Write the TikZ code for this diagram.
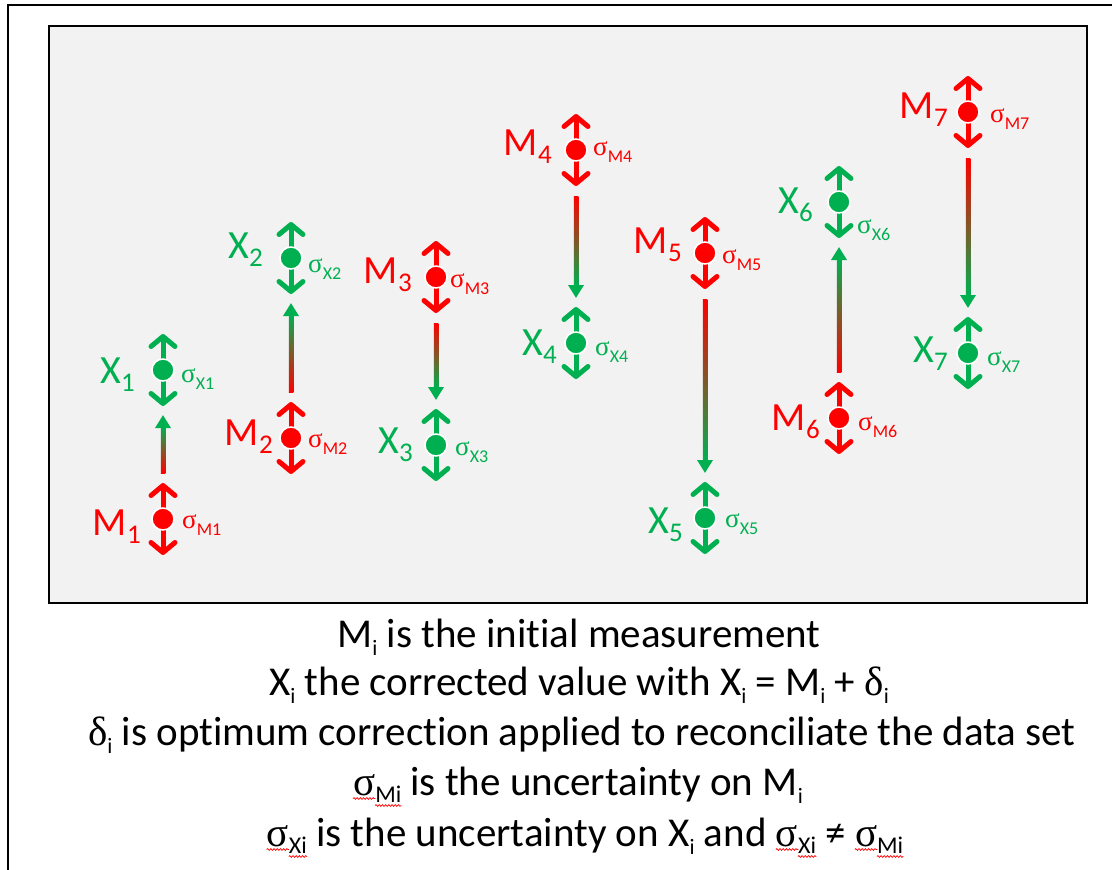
\documentclass[tikz,border=0pt]{standalone}
\usepackage{fontspec}
\setmainfont{Carlito}[Ligatures={NoCommon}]
\newfontfamily\symf{Liberation Serif}
\usetikzlibrary{arrows.meta,calc,decorations.pathmorphing}
\definecolor{mred}{RGB}{255,0,0}
\definecolor{xgreen}{RGB}{0,176,80}
\definecolor{panel}{RGB}{242,242,242}
\newcommand\redwv[1]{\tikz[baseline=(w.base)]{\node[inner sep=0pt, font=, text=black] (w) {#1};
  \draw[overlay, mred, line width=0.7pt, decorate, decoration={snake, amplitude=0.9pt, segment length=3.2pt}] ([yshift=-3.5pt]w.base west) -- ([yshift=-3.5pt]w.base east);}}
\newcommand\sg{{\symf σ}}
\newcommand\dl{{\symf δ}}
\newcommand\lsub[1]{\raisebox{-8pt}{\fontsize{27}{27}\selectfont #1}}
\newcommand\ssub[1]{\raisebox{-7pt}{\fontsize{18}{18}\selectfont #1}}
\newcommand\bsub[1]{\raisebox{-8pt}{\fontsize{22}{22}\selectfont #1}}
\newcommand\bsubw[1]{\raisebox{-7pt}{\fontsize{24}{24}\selectfont\redwv{#1}}}
\tikzset{
  mdot/.style={circle, fill=mred, draw=white, line width=1.5pt, minimum size=22pt, inner sep=0pt},
  xdot/.style={circle, fill=xgreen, draw=white, line width=1.5pt, minimum size=22pt, inner sep=0pt},
  dbl/.style={line width=5pt, {Straight Barb[length=10pt,width=24pt,round]}-{Straight Barb[length=10pt,width=24pt,round]}},
  conn/.style={line width=4.5pt, draw=xgreen, -{Triangle[length=13pt,width=15pt]}},
  biglab/.style={inner sep=0pt, font=\fontsize{40}{40}\selectfont},
  siglab/.style={inner sep=0pt, font=\fontsize{27}{27}\selectfont},
  btxt/.style={inner sep=0pt, anchor=base, font=\fontsize{41}{41}\selectfont},
}
\begin{document}
\begin{tikzpicture}[x=1pt,y=-1pt]
\clip (0,0) rectangle (1112,870);
\fill[white] (0,0) rectangle (1112,870);
% frames
\draw[line width=2pt, black] (8,5) rectangle (1130,890);
\draw[line width=2.5pt, black, fill=panel] (49,26) rectangle (1087,603);
% points
\foreach \i/\x/\my/\xy in {1/163/519/370, 2/291/438/258, 3/436/277/445, 4/576/150/343, 5/705/253/518, 6/839/418/202, 7/968/112/353}{
  \node[mdot] (M\i) at (\x,\my) {};
  \node[xdot] (X\i) at (\x,\xy) {};
}
% connectors
\foreach \i/\d in {1/-1, 2/-1, 3/1, 4/1, 5/1, 6/-1, 7/1}{
  \coordinate (s\i) at ($(M\i)+(0,46*\d)$);
  \coordinate (e\i) at ($(X\i)+(0,-45*\d)$);
  \coordinate (h\i) at ($(e\i)+(0,-12*\d)$);
  \draw[conn] (s\i) -- (e\i);
  \ifnum\d=1
    \shade[top color=mred, bottom color=xgreen] ($(s\i)+(-2.25,0)$) rectangle ($(h\i)+(2.25,0)$);
  \else
    \shade[top color=xgreen, bottom color=mred] ($(s\i)+(-2.25,0)$) rectangle ($(h\i)+(2.25,0)$);
  \fi
}
% uncertainty double arrows and dots
\foreach \i in {1,...,7}{
  \draw[dbl, mred] ($(M\i)+(0,-36)$) -- ($(M\i)+(0,36)$);
  \draw[dbl, xgreen] ($(X\i)+(0,-36)$) -- ($(X\i)+(0,36)$);
  \node[mdot] at (M\i) {};
  \node[xdot] at (X\i) {};
}
% labels
\node[biglab, mred, anchor=base east] (LM1) at (141,535) {M\lsub{1}};
\node[siglab, mred, anchor=base west] (SM1) at (182,528) {\sg\ssub{M1}};
\node[biglab, xgreen, anchor=base east] (LX1) at (135,383) {X\lsub{1}};
\node[siglab, xgreen, anchor=base west] (SX1) at (181,382) {\sg\ssub{X1}};
\node[biglab, mred, anchor=base east] (LM2) at (273,445) {M\lsub{2}};
\node[siglab, mred, anchor=base west] (SM2) at (308,447) {\sg\ssub{M2}};
\node[biglab, xgreen, anchor=base east] (LX2) at (263,258) {X\lsub{2}};
\node[siglab, xgreen, anchor=base west] (SX2) at (308,272) {\sg\ssub{X2}};
\node[biglab, mred, anchor=base east] (LM3) at (412,283) {M\lsub{3}};
\node[siglab, mred, anchor=base west] (SM3) at (450,287) {\sg\ssub{M3}};
\node[biglab, xgreen, anchor=base east] (LX3) at (413,453) {X\lsub{3}};
\node[siglab, xgreen, anchor=base west] (SX3) at (455,455) {\sg\ssub{X3}};
\node[biglab, mred, anchor=base east] (LM4) at (552,155) {M\lsub{4}};
\node[siglab, mred, anchor=base west] (SM4) at (593,155) {\sg\ssub{M4}};
\node[biglab, xgreen, anchor=base east] (LX4) at (557,355) {X\lsub{4}};
\node[siglab, xgreen, anchor=base west] (SX4) at (595,355) {\sg\ssub{X4}};
\node[biglab, mred, anchor=base east] (LM5) at (682,253) {M\lsub{5}};
\node[siglab, mred, anchor=base west] (SM5) at (722,263) {\sg\ssub{M5}};
\node[biglab, xgreen, anchor=base east] (LX5) at (683,533) {X\lsub{5}};
\node[siglab, xgreen, anchor=base west] (SX5) at (725,527) {\sg\ssub{X5}};
\node[biglab, mred, anchor=base east] (LM6) at (820,430) {M\lsub{6}};
\node[siglab, mred, anchor=base west] (SM6) at (858,430) {\sg\ssub{M6}};
\node[biglab, xgreen, anchor=base east] (LX6) at (813,213) {X\lsub{6}};
\node[siglab, xgreen, anchor=base west] (SX6) at (857,233) {\sg\ssub{X6}};
\node[biglab, mred, anchor=base east] (LM7) at (948,118) {M\lsub{7}};
\node[siglab, mred, anchor=base west] (SM7) at (990,122) {\sg\ssub{M7}};
\node[biglab, xgreen, anchor=base east] (LX7) at (948,362) {X\lsub{7}};
\node[siglab, xgreen, anchor=base west] (SX7) at (987,365) {\sg\ssub{X7}};
% caption text
\node[btxt] (t1) at (579,647) {M\bsub{i} is the initial measurement};
\node[btxt] (t2) at (579,695) {X\bsub{i} the corrected value with X\bsub{i} = M\bsub{i} + \dl\bsub{i}};
\node[btxt] (t3) at (582,745) {\dl\bsub{i} is optimum correction applied to reconciliate the data set};
\node[btxt] (t4) at (578,795) {\redwv{\sg}\bsubw{Mi} is the uncertainty on M\bsub{i}};
\node[btxt] (t5) at (585,846) {\redwv{\sg}\bsubw{Xi} is the uncertainty on X\bsub{i} and \redwv{\sg}\bsubw{Xi} ≠ \redwv{\sg}\bsubw{Mi}};
\end{tikzpicture}
\end{document}
